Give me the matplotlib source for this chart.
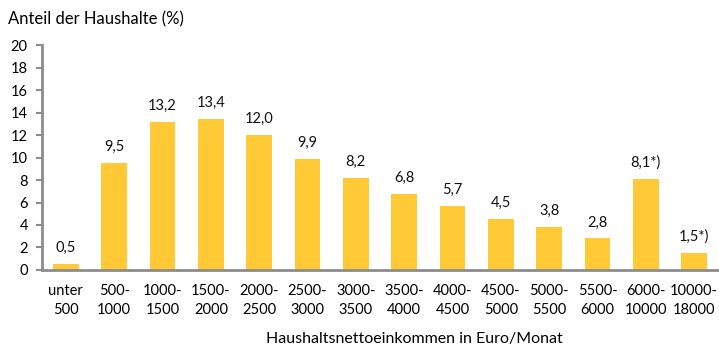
import matplotlib.pyplot as plt

plt.rcParams['font.family'] = ['Lato', 'DejaVu Sans']

categories = ['unter\n500', '500-\n1000', '1000-\n1500', '1500-\n2000', '2000-\n2500',
              '2500-\n3000', '3000-\n3500', '3500-\n4000', '4000-\n4500', '4500-\n5000',
              '5000-\n5500', '5500-\n6000', '6000-\n10000', '10000-\n18000']
values = [0.5, 9.5, 13.2, 13.4, 12.0, 9.9, 8.2, 6.8, 5.7, 4.5, 3.8, 2.8, 8.1, 1.5]
labels = ['0,5', '9,5', '13,2', '13,4', '12,0', '9,9', '8,2', '6,8', '5,7', '4,5',
          '3,8', '2,8', '8,1*)', '1,5*)']

bar_color = '#FFCA35'
axis_color = '#8C8C8C'

fig = plt.figure(figsize=(7.19, 3.47), dpi=100)
ax = fig.add_axes([0.058, 0.222, 0.941, 0.648])

x = list(range(len(values)))
bars = ax.bar(x, values, width=0.53, color=bar_color)
for xi, v, lab in zip(x, values, labels):
    ax.text(xi, v + 0.8, lab, ha='center', va='bottom', fontsize=10.5, color='#111111')

ax.set_xlim(-0.5, len(values) - 0.5)
ax.set_ylim(0, 20)
ax.set_yticks(range(0, 21, 2))
ax.set_xticks(x)
ax.set_xticklabels(categories, fontsize=10.5, linespacing=1.45)
ax.tick_params(axis='x', length=0, pad=10)
ax.tick_params(axis='y', length=4, color=axis_color, width=1.5, labelsize=10.5, pad=6)

for side in ['top', 'right']:
    ax.spines[side].set_visible(False)
for side in ['left', 'bottom']:
    ax.spines[side].set_color(axis_color)
    ax.spines[side].set_linewidth(2)

fig.text(0.011, 0.945, 'Anteil der Haushalte (%)', fontsize=12, ha='left', va='center')
fig.text(0.577, 0.022, 'Haushaltsnettoeinkommen in Euro/Monat', fontsize=11.5, ha='center', va='center')

fig.savefig('out.png', dpi=100)
